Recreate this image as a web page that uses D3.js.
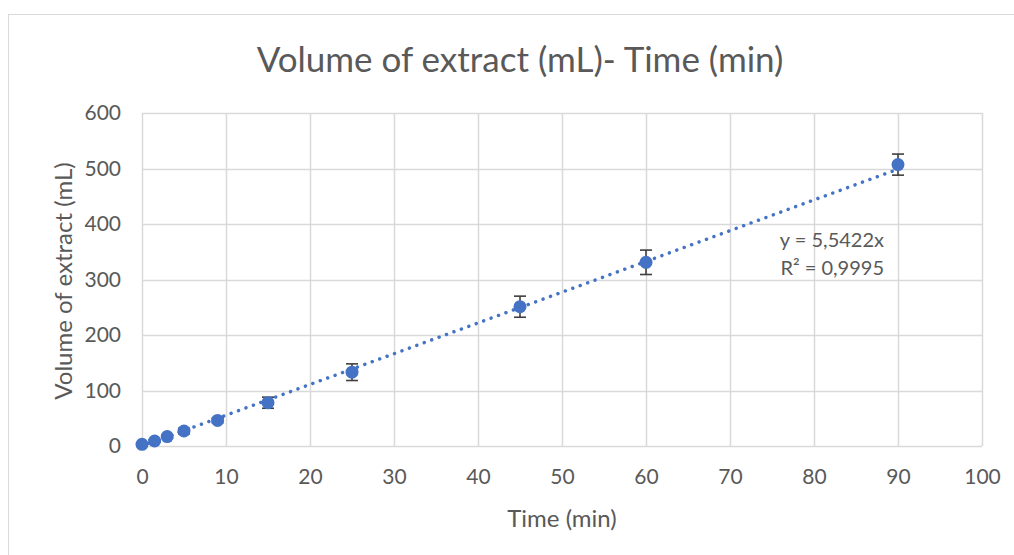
<!DOCTYPE html>
<html>
<head>
<meta charset="utf-8">
<script src="https://cdn.jsdelivr.net/npm/d3@7"></script>
<style>
  html, body { margin: 0; padding: 0; background: #fff; }
  svg { display: block; font-family: Lato, "Open Sans", sans-serif; }
</style>
</head>
<body>
<svg id="chart" width="1014" height="555"></svg>
<script>
// Extraction run: collected volume over time, with standard deviation
const timeMin = [0, 1.5, 3, 5, 9, 15, 25, 45, 60, 90];
const volumeMl = [3, 9, 17, 27, 46, 78, 133, 251, 331, 507];
const volumeSd = [1, 2, 3, 5, 4, 10, 15, 19, 22, 19];
const xTicks = [0, 10, 20, 30, 40, 50, 60, 70, 80, 90, 100];
const yTicks = [0, 100, 200, 300, 400, 500, 600];
const slope = 5.5422;
const rSquared = "0,9995";

const svg = d3.select("#chart");
const W = 1014, H = 555;
const plot = { left: 142, right: 982, top: 113, bottom: 446 };

const x = d3.scaleLinear().domain([0, 100]).range([plot.left, plot.right]);
const y = d3.scaleLinear().domain([0, 600]).range([plot.bottom, plot.top]);

const gridColor = "#d9d9d9";
const textColor = "#595959";

// chart frame
svg.append("rect")
  .attr("x", 8.5).attr("y", 14.5)
  .attr("width", W).attr("height", H)
  .attr("fill", "#fff").attr("stroke", gridColor).attr("stroke-width", 1);

// gridlines
const grid = svg.append("g");
grid.selectAll("line.h").data(yTicks).join("line")
  .attr("x1", plot.left).attr("x2", plot.right)
  .attr("y1", d => Math.round(y(d)) + 0.5).attr("y2", d => Math.round(y(d)) + 0.5)
  .attr("stroke", gridColor).attr("stroke-width", 1.5);
grid.selectAll("line.v").data(xTicks).join("line")
  .attr("y1", plot.top).attr("y2", plot.bottom)
  .attr("x1", d => Math.round(x(d)) + 0.5).attr("x2", d => Math.round(x(d)) + 0.5)
  .attr("stroke", gridColor).attr("stroke-width", 1.5);

// axes (labels only, lines come from the grid)
const xAxis = svg.append("g")
  .attr("transform", `translate(0,${plot.bottom})`)
  .call(d3.axisBottom(x).tickValues(xTicks).tickSize(0).tickPadding(23).tickFormat(d3.format("d")));
const yAxis = svg.append("g")
  .attr("transform", `translate(${plot.left},0)`)
  .call(d3.axisLeft(y).tickValues(yTicks).tickSize(0).tickPadding(21).tickFormat(d3.format("d")));
[xAxis, yAxis].forEach(a => {
  a.select(".domain").remove();
  a.selectAll("text").attr("fill", textColor).style("font-size", "21px")
    .style("font-family", "Lato, sans-serif");
});

// linear trendline through the origin
const trendX = [0, 90];
svg.append("line")
  .attr("x1", x(trendX[0])).attr("y1", y(slope * trendX[0]))
  .attr("x2", x(trendX[1])).attr("y2", y(slope * trendX[1]))
  .attr("stroke", "#4472c4").attr("stroke-width", 3.5)
  .attr("stroke-linecap", "round").attr("stroke-dasharray", "0.01 7.9");

// error bars
const data = timeMin.map((t, i) => ({ t, v: volumeMl[i], sd: volumeSd[i] }));
const eb = svg.append("g").attr("stroke", "#3f3f3f").attr("stroke-width", 1.6);
eb.selectAll("line.bar").data(data).join("line")
  .attr("x1", d => x(d.t)).attr("x2", d => x(d.t))
  .attr("y1", d => y(d.v - d.sd)).attr("y2", d => y(d.v + d.sd));
eb.selectAll("line.capTop").data(data).join("line")
  .attr("x1", d => x(d.t) - 6).attr("x2", d => x(d.t) + 6)
  .attr("y1", d => y(d.v + d.sd)).attr("y2", d => y(d.v + d.sd));
eb.selectAll("line.capBottom").data(data).join("line")
  .attr("x1", d => x(d.t) - 6).attr("x2", d => x(d.t) + 6)
  .attr("y1", d => y(d.v - d.sd)).attr("y2", d => y(d.v - d.sd));

// markers
svg.append("g").selectAll("circle").data(data).join("circle")
  .attr("cx", d => x(d.t)).attr("cy", d => y(d.v)).attr("r", 6.5)
  .attr("fill", "#4472c4");

// trendline equation
const eq = svg.append("text").attr("fill", textColor).style("font-size", "20px")
  .attr("text-anchor", "end");
eq.append("tspan").attr("x", 884).attr("y", 247).text(`y = ${String(slope).replace(".", ",")}x`);
eq.append("tspan").attr("x", 884).attr("y", 275).text(`R² = ${rSquared}`);

// titles
svg.append("text").attr("x", 520).attr("y", 72).attr("text-anchor", "middle")
  .attr("fill", textColor).style("font-size", "35px")
  .text("Volume of extract (mL)- Time (min)");
svg.append("text").attr("x", 562).attr("y", 527).attr("text-anchor", "middle")
  .attr("fill", textColor).style("font-size", "24px").text("Time (min)");
svg.append("text").attr("transform", "translate(72,281) rotate(-90)").attr("text-anchor", "middle")
  .attr("fill", textColor).style("font-size", "24px").text("Volume of extract (mL)");
</script>
</body>
</html>
